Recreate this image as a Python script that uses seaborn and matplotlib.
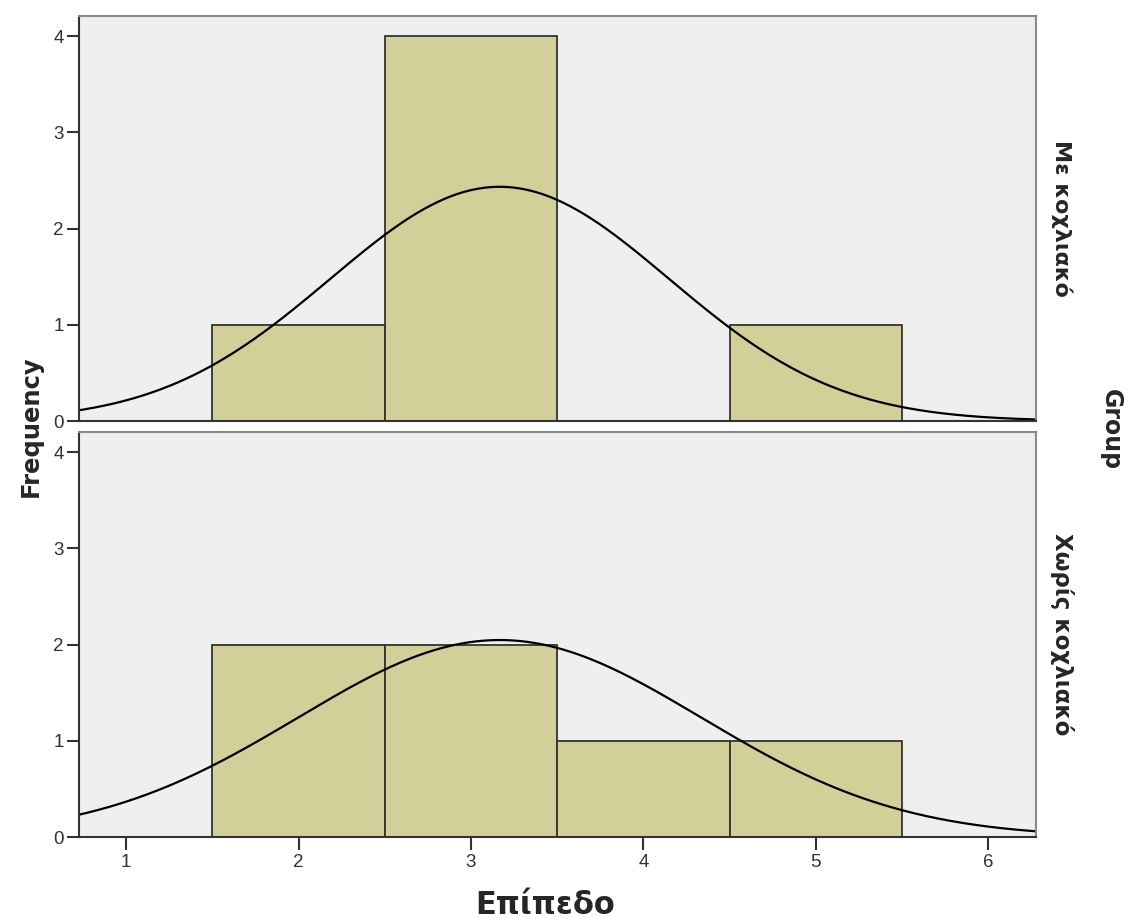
import numpy as np
import pandas as pd
import matplotlib
matplotlib.use("Agg")
import matplotlib.pyplot as plt
import seaborn as sns

groups = ["Με κοχλιακό", "Χωρίς κοχλιακό"]
values_with = [2, 3, 3, 3, 3, 5]
values_without = [2, 2, 3, 3, 4, 5]
bin_edges = [1.5, 2.5, 3.5, 4.5, 5.5]
x_ticks = [1, 2, 3, 4, 5, 6]
y_ticks = [0, 1, 2, 3, 4]

df = pd.DataFrame({
    "Επίπεδο": values_with + values_without,
    "Group": [groups[0]] * len(values_with) + [groups[1]] * len(values_without),
})

sns.set_theme(style="white")
plt.rcParams["font.family"] = ["Liberation Sans", "DejaVu Sans"]

fig, axes = plt.subplots(2, 1, figsize=(11.29, 9.18), dpi=100, sharex=True)
fig.subplots_adjust(left=0.07, right=0.9177, top=0.9826, bottom=0.0882, hspace=0.027)

bar_color = "#D3CF98"
panel_bg = "#EFEFEF"
binw = bin_edges[1] - bin_edges[0]
xs = np.linspace(0.7, 6.3, 400)
bold_font = ["DejaVu Sans"]
row_sizes = [16, 16.5]

for ax, g, fs in zip(axes, groups, row_sizes):
    sub = df[df["Group"] == g]
    ax.set_facecolor(panel_bg)
    sns.histplot(data=sub, x="Επίπεδο", bins=bin_edges, ax=ax, color=bar_color,
                 alpha=1, edgecolor="#333333", linewidth=1.3)
    v = np.asarray(sub["Επίπεδο"], dtype=float)
    mu, sd, n = v.mean(), v.std(ddof=1), len(v)
    curve = n * binw / (sd * np.sqrt(2 * np.pi)) * np.exp(-0.5 * ((xs - mu) / sd) ** 2)
    sns.lineplot(x=xs, y=curve, ax=ax, color="black", linewidth=1.6)
    ax.set_xlim(0.727, 6.278)
    ax.set_ylim(0, 4.21)
    ax.set_yticks(y_ticks)
    ax.set_ylabel("")
    ax.set_xlabel("")
    ax.tick_params(axis="y", direction="out", length=9, width=1.5, color="#333333",
                   labelsize=13.5, labelcolor="#333333", left=True, pad=2)
    for s in ["left", "bottom"]:
        ax.spines[s].set_color("#333333")
        ax.spines[s].set_linewidth(1.5)
    for s in ["top", "right"]:
        ax.spines[s].set_color("#8A8A8A")
        ax.spines[s].set_linewidth(1.5)
    ax.text(1.027, 0.5, g, transform=ax.transAxes, rotation=-90, ha="center", va="center",
            fontsize=fs, fontweight="bold", family=bold_font)

axes[0].tick_params(axis="x", bottom=False, labelbottom=False)
axes[1].set_xticks(x_ticks)
axes[1].tick_params(axis="x", direction="out", length=9, width=1.5, color="#333333",
                    labelsize=13.5, labelcolor="#333333", bottom=True, pad=3)

fig.text(0.027, 0.536, "Frequency", rotation=90, ha="center", va="center",
         fontsize=17.5, fontweight="bold", family=bold_font)
fig.text(0.4827, 0.014, "Επίπεδο", ha="center", va="center",
         fontsize=22, fontweight="bold", family=bold_font)
fig.text(0.984, 0.532, "Group", rotation=-90, ha="center", va="center",
         fontsize=17, fontweight="bold", family=bold_font)

fig.savefig("out.png", dpi=100, facecolor="white")
